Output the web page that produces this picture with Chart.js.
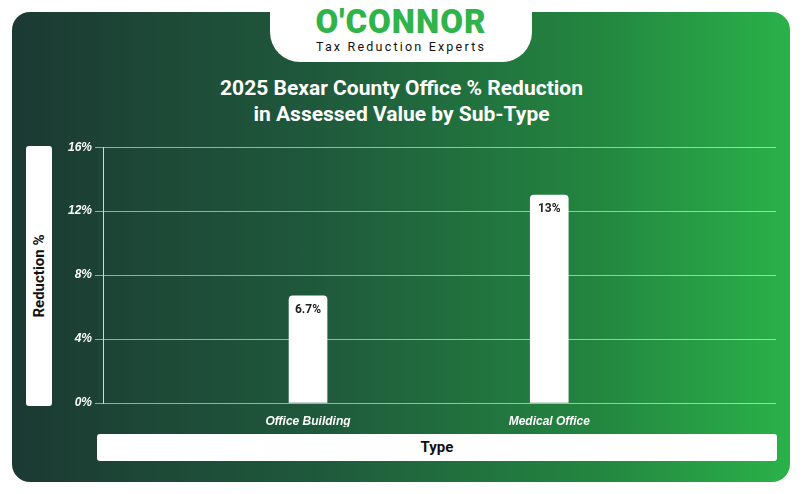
<!DOCTYPE html>
<html>
<head>
<meta charset="utf-8">
<script src="https://cdn.jsdelivr.net/npm/chart.js@4/dist/chart.umd.min.js"></script>
<style>
  body { margin:0; width:803px; height:494px; background:#fff; font-family:Roboto, sans-serif; position:relative; overflow:hidden; }
  .card { position:absolute; left:12px; top:12px; width:778px; height:470px; border-radius:18px;
    background:linear-gradient(90deg,#1b3932 0%,#1f5a3c 40%,#23853f 75%,#2ab24a 100%); }
  .tab { position:absolute; left:270px; top:0; width:262px; height:62px; background:#fff; border-radius:0 0 30px 30px; text-align:center; }
  .logo { font-weight:900; font-size:33px; color:#2fb34a; margin-top:5px; letter-spacing:1px; line-height:34px; }
  .sub { font-size:12.5px; letter-spacing:2.2px; color:#111; margin-top:0px; }
  .title { position:absolute; left:0; width:803px; top:75px; text-align:center; color:#fff; font-weight:bold; font-size:21px; line-height:26px; }
  .ylab { position:absolute; left:26px; top:146px; width:26px; height:260px; background:#fff; border-radius:3px; }
  .ylab span { position:absolute; left:50%; top:50%; transform:translate(-50%,-50%) rotate(-90deg); white-space:nowrap; font-weight:bold; font-size:15px; color:#111; }
  .xlab { position:absolute; left:97px; top:434px; width:680px; height:27px; background:#fff; border-radius:3px; text-align:center; line-height:27px; font-weight:bold; font-size:15px; color:#111; }
  #wrap { position:absolute; left:50px; top:137px; width:730px; height:290px; }
</style>
</head>
<body>
<div class="card"></div>
<div class="tab"><div class="logo">O'CONNOR</div><div class="sub">Tax Reduction Experts</div></div>
<div class="title">2025 Bexar County Office % Reduction<br>in Assessed Value by Sub-Type</div>
<div class="ylab"><span>Reduction %</span></div>
<div class="xlab">Type</div>
<div id="wrap"><canvas id="c"></canvas></div>
<script>
const categories = ["Office Building", "Medical Office"];
const reduction = [6.7, 13];
const labels = ["6.7%", "13%"];

const barLabels = {
  id: "barLabels",
  afterDatasetsDraw(chart) {
    const ctx = chart.ctx;
    ctx.save();
    ctx.font = "bold 12px Roboto";
    ctx.fillStyle = "#222";
    ctx.textAlign = "center";
    ctx.textBaseline = "top";
    chart.getDatasetMeta(0).data.forEach((bar, i) => {
      ctx.fillText(labels[i], bar.x, bar.y + 8);
    });
    ctx.restore();
  }
};

new Chart(document.getElementById("c"), {
  type: "bar",
  data: {
    datasets: [{
      data: reduction.map((v, i) => ({ x: i, y: v })),
      backgroundColor: "#fff",
      barThickness: 38,
      borderRadius: { topLeft: 4, topRight: 4 },
      borderSkipped: "bottom"
    }]
  },
  options: {
    responsive: true,
    maintainAspectRatio: false,
    animation: false,
    layout: { padding: { top: 10, right: 4 } },
    plugins: { legend: { display: false }, tooltip: { enabled: false } },
    scales: {
      x: {
        type: "linear",
        offset: false,
        bounds: "ticks",
        min: -0.85, max: 1.94,
        afterBuildTicks: s => { s.ticks = categories.map((c, i) => ({ value: i })); },
        afterFit: s => { s.height = 24; },
        grid: { display: false },
        border: { display: false },
        ticks: { color: "#fff", font: { size: 12, style: "italic", weight: "bold" },
          callback: v => categories[v] }
      },
      y: {
        min: 0, max: 16,
        afterFit: s => { s.width = 53; },
        border: { color: "rgba(255,255,255,0.8)" },
        grid: { color: "rgba(255,255,255,0.55)", tickLength: 8 },
        ticks: { stepSize: 4, color: "#fff", font: { size: 12, style: "italic", weight: "bold" },
          callback: v => v + "%" }
      }
    }
  },
  plugins: [barLabels]
});
</script>
</body>
</html>
